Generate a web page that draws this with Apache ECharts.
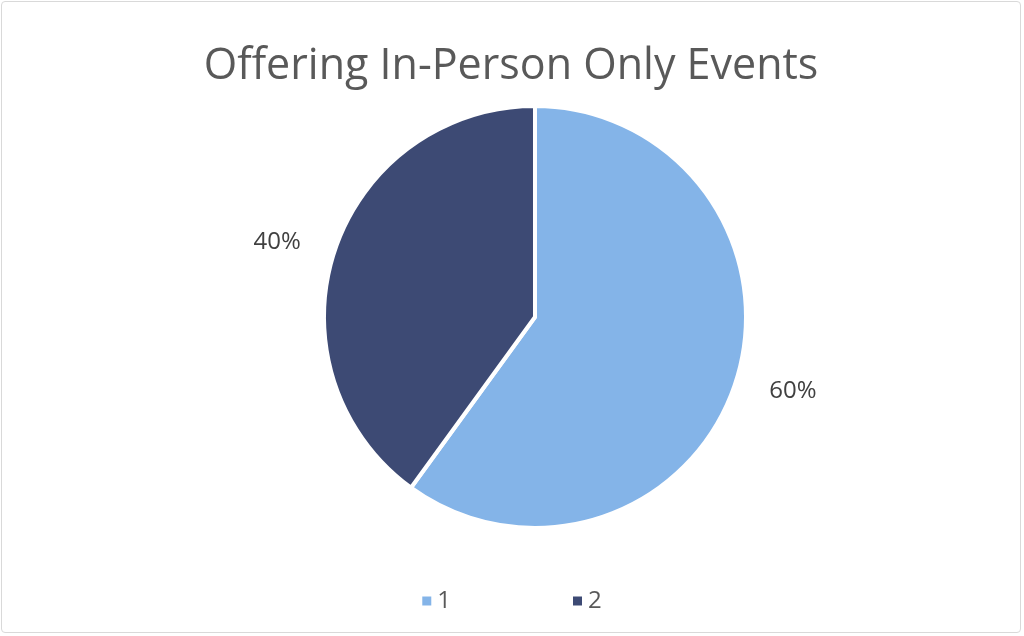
<!DOCTYPE html>
<html><head><meta charset="utf-8">
<script src="https://cdn.jsdelivr.net/npm/echarts@6/dist/echarts.min.js"></script>
<style>html,body{margin:0;padding:0;background:#fff}
#c{position:absolute;left:1px;top:1px;width:1020px;height:632px;border:1px solid #d9d9d9;border-radius:4px;box-sizing:border-box}</style>
</head><body><div id="c"></div>
<script>
const categories = ['1', '2'];
const values = [60, 40];
const colors = ['#84B4E8', '#3D4A74'];
const chart = echarts.init(document.getElementById('c'));
chart.setOption({
  animation: false,
  title: { text: 'Offering In-Person Only Events', left: 'center', top: 38,
    textStyle: { fontFamily: 'Open Sans', fontWeight: 'normal', fontSize: 43, color: '#595959' } },
  legend: { bottom: 14, left: 'center', itemWidth: 11, itemHeight: 11, itemGap: 120, icon: 'rect',
    textStyle: { fontFamily: 'Open Sans', fontSize: 24, color: '#595959' } },
  series: [{
    type: 'pie', center: [533, 315], radius: 211, startAngle: 90, clockwise: true,
    itemStyle: { borderColor: '#fff', borderWidth: 4 },
    label: { show: true, position: 'outside', formatter: '{d}%', fontFamily: 'Open Sans', fontSize: 24, color: '#404040' },
    labelLine: { show: false, length: 30, length2: 0 },
    data: categories.map((c, i) => ({ name: c, value: values[i], itemStyle: { color: colors[i] } }))
  }]
});
</script></body></html>
